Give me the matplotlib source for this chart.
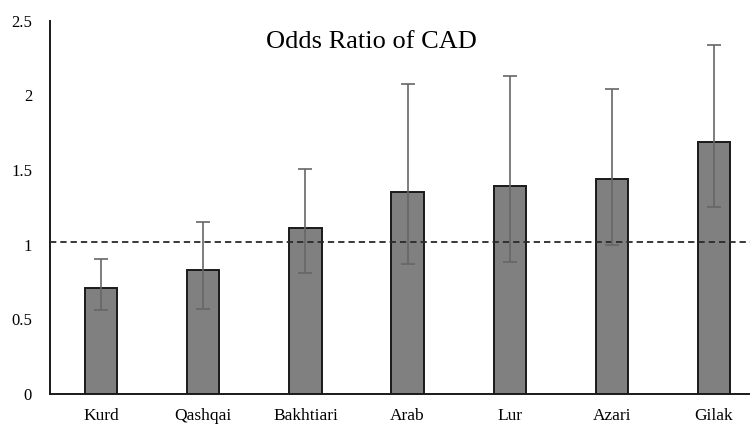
import matplotlib
matplotlib.use("Agg")
import matplotlib.pyplot as plt
import numpy as np

categories = ["Kurd", "Qashqai", "Bakhtiari", "Arab", "Lur", "Azari", "Gilak"]
odds_ratio = [0.71, 0.83, 1.11, 1.35, 1.39, 1.44, 1.69]
ci_lower = [0.56, 0.57, 0.81, 0.87, 0.88, 1.00, 1.25]
ci_upper = [0.90, 1.15, 1.51, 2.08, 2.13, 2.04, 2.34]
reference_line = 1.02
y_ticks = [0, 0.5, 1, 1.5, 2, 2.5]
y_tick_labels = ["0", "0.5", "1", "1.5", "2", "2.5"]
title = "Odds Ratio of CAD"

plt.rcParams['font.family'] = ['Liberation Serif', 'DejaVu Serif']

fig = plt.figure(figsize=(7.5, 4.34), dpi=100)
ax = fig.add_axes([0.0669, 0.0929, 0.953, 0.859])

x = np.arange(len(categories))
vals = np.array(odds_ratio)
err = np.vstack([vals - np.array(ci_lower), np.array(ci_upper) - vals])

ax.bar(x, vals, width=0.315, color="#808080", edgecolor="#1a1a1a", linewidth=1.4, zorder=2)
ax.axhline(reference_line, color="#2a2a2a", linestyle=(0, (3.5, 2.2)), linewidth=1.3, zorder=3)
ax.errorbar(x, vals, yerr=err, fmt="none", ecolor="#666666", elinewidth=1.2,
            capsize=5, capthick=1.2, zorder=4)

ax.set_xlim(-0.5, len(categories) - 0.5)
ax.set_ylim(0, 2.5)
ax.set_yticks(y_ticks)
ax.set_yticklabels(y_tick_labels)
ax.set_xticks(x)
ax.set_xticklabels(categories)
ax.tick_params(axis="y", length=0, pad=13, labelsize=12)
ax.tick_params(axis="x", length=0, pad=10, labelsize=12.5)

for s in ["top", "right"]:
    ax.spines[s].set_visible(False)
for s in ["left", "bottom"]:
    ax.spines[s].set_linewidth(1.4)
    ax.spines[s].set_color("#1a1a1a")

fig.text(371 / 750, 1 - 42 / 434, title, ha="center", va="center", fontsize=19)

fig.savefig("out.png", dpi=100)
